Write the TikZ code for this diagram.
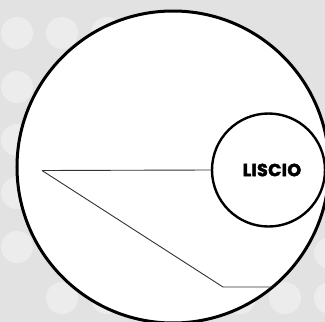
\documentclass[tikz,border=0pt]{standalone}
\usepackage{fontspec}
\newfontfamily\popfont{Poppins}[BoldFeatures={FakeBold=2.5,LetterSpace=2}]
\definecolor{bggray}{HTML}{E2E2E2}
\definecolor{dotgray}{HTML}{ECECEC}
\begin{document}
\begin{tikzpicture}[x=1pt,y=-1pt,
  bigcircle/.style={draw=black,line width=3pt,fill=white},
  smallcircle/.style={circle,draw=black,line width=2.4pt,fill=white,minimum size=113pt,inner sep=0pt,font=\popfont\bfseries\fontsize{17.5}{20}\selectfont},
  leader/.style={draw=black!80,line width=0.9pt},
  bgdot/.style={fill=dotgray}]
\useasboundingbox (0,0) rectangle (325,322);
\clip (0,0) rectangle (325,322);
\fill[bggray] (0,0) rectangle (325,322);
\foreach \px/\py in {17/33,62/33,107/33,17/87,17/140,17/193,17/247,62/298,107/298,240/298,285/298,330/298,330/253}{
  \fill[bgdot] (\px,\py) circle (16);
}
\draw[bigcircle] (173,167) circle (156);
\coordinate (apex) at (42,170.5);
\coordinate (bend) at (223,287);
\coordinate (rimend) at (273,287);
\node[smallcircle] (liscio) at (268.5,170) {\hspace*{7pt}LISCIO};
\draw[leader] (apex) -- (liscio.west);
\draw[leader] (apex) -- (bend) -- (rimend);
\end{tikzpicture}
\end{document}
